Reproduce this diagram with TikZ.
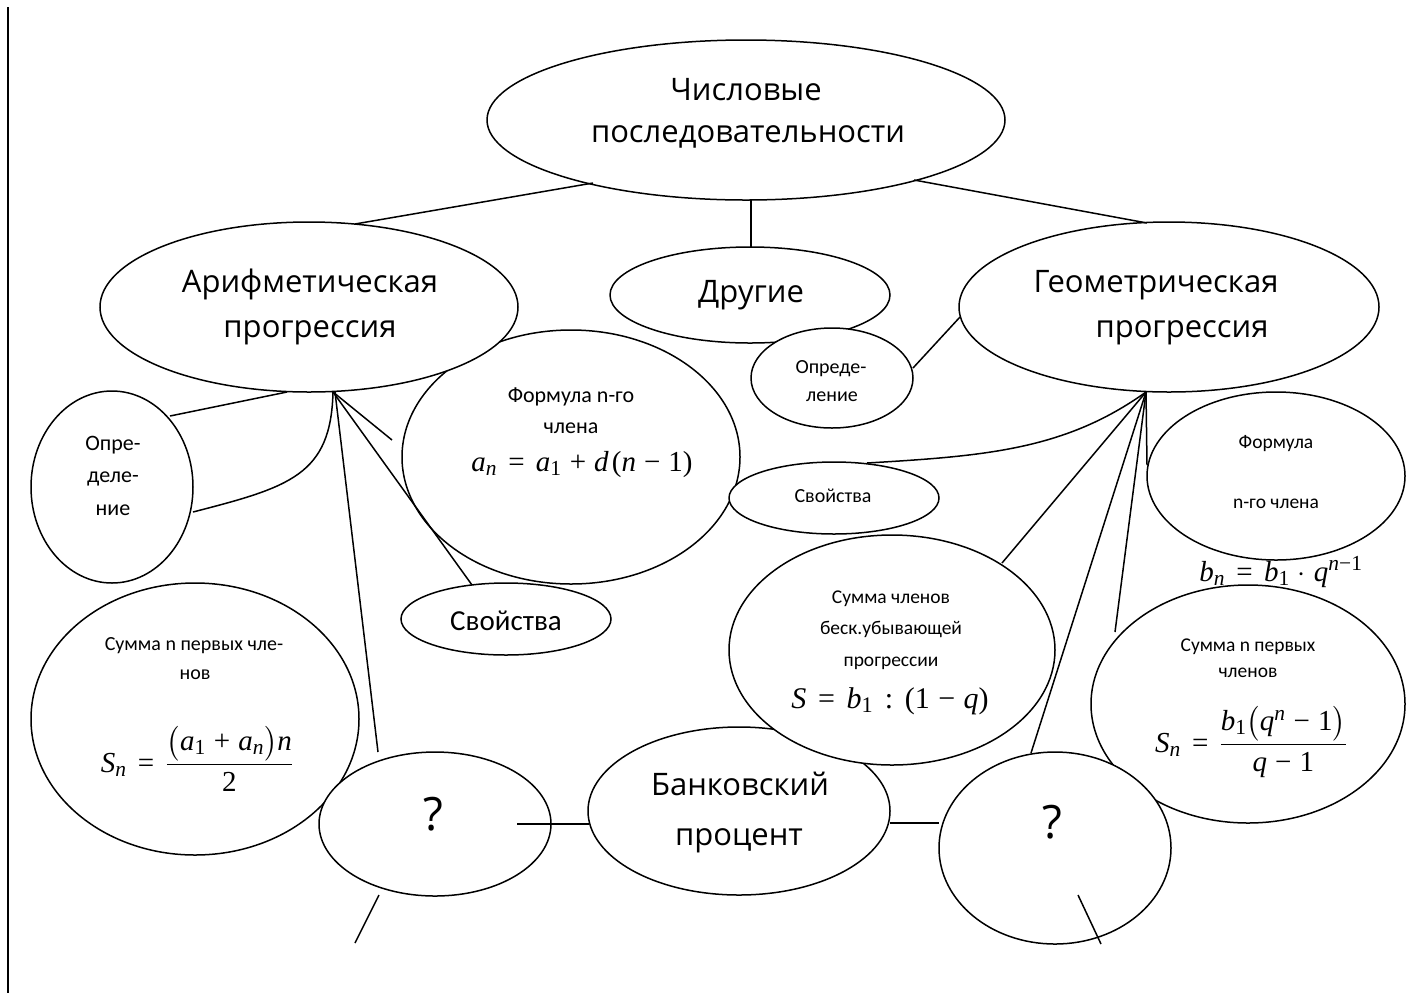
\documentclass[tikz,border=0pt]{standalone}
\usepackage{amsmath}
\usepackage{mathptmx}
\usepackage[no-math]{fontspec}
\setmainfont{Carlito}
\newfontfamily\hd{Open Sans}
\newfontfamily\tm{Liberation Serif}
\newcommand\mv[1]{\text{\tm\itshape #1}}
\newcommand\mnum[1]{\text{\tm #1}}
\newcommand\meq{\mathrel{\mnum{=}}}
\newcommand\mplus{\mathbin{\mnum{+}}}
\newcommand\mminus{\mathbin{\mnum{−}}}
\thickmuskip=7mu plus 2mu
\medmuskip=5mu plus 2mu
\usetikzlibrary{shapes.geometric}
\begin{document}
\begin{tikzpicture}[x=1pt,y=-1pt,
  ov/.style={ellipse, draw, fill=white, line width=1.5pt, inner sep=0pt},
  ln/.style={line width=1.5pt},
  hdt/.style={font=\hd\fontsize{31}{36}\selectfont, anchor=base, inner sep=0pt},
  qm/.style={font=\hd\fontsize{46}{50}\selectfont, anchor=base, inner sep=0pt},
  smt/.style={font=\fontsize{20}{24}\selectfont, anchor=base, inner sep=0pt},
  mth/.style={font=\fontsize{29}{34}\selectfont, anchor=base, inner sep=0pt}
  ]
\useasboundingbox (0,0) rectangle (1418,1005);

% left border
\coordinate (bt) at (8,7);
\coordinate (bb) at (8,993);
\draw[ln] (bt) -- (bb);

% ellipses
\node[ov, minimum width=518pt, minimum height=160pt] (top) at (746,120) {};
\node[ov, minimum width=338pt, minimum height=254pt] (aform) at (571,457) {};
\node[ov, minimum width=418pt, minimum height=170pt] (ari) at (309,307) {};
\node[ov, minimum width=280pt, minimum height=96pt] (oth) at (750,295) {};
\node[ov, minimum width=420pt, minimum height=170pt] (geo) at (1169,307) {};
\node[ov, minimum width=162pt, minimum height=100pt] (odef) at (832,378) {};
\node[ov, minimum width=162pt, minimum height=192pt] (adef) at (112,487) {};
\node[ov, minimum width=210pt, minimum height=72pt] (aprop) at (506,619) {};
\node[ov, minimum width=328pt, minimum height=272pt] (asum) at (195,719) {};
\node[ov, minimum width=302pt, minimum height=168pt] (bank) at (739,811) {};
\node[ov, minimum width=210pt, minimum height=72pt] (gprop) at (834,498) {};
\node[ov, minimum width=326pt, minimum height=230pt] (ginf) at (892,650) {};
\node[ov, minimum width=258pt, minimum height=168pt] (gform) at (1276,476) {};
\node[mth, font=\fontsize{29}{32}\selectfont] (gformula) at (1281,581) {$\mv{b}_{\mv{n}} \meq \mv{b}_{\mnum{1}}\cdot \mv{q}^{\mv{n}\mminus\mnum{1}}$};
\node[ov, minimum width=314pt, minimum height=238pt] (gsum) at (1248,704) {};
\node[ov, minimum width=232pt, minimum height=144pt] (qa) at (435,824) {};
\node[ov, minimum width=232pt, minimum height=192pt] (qg) at (1055,848) {};

% texts
\node[hdt] (t1) at (746,100) {Числовые};
\node[hdt] (t2) at (748,142) {последовательности};
\node[hdt] (t3) at (310,292) {Арифметическая};
\node[hdt] (t4) at (310,337) {прогрессия};
\node[hdt] (t5) at (751,302) {Другие};
\node[hdt] (t6) at (1156,292) {Геометрическая};
\node[hdt] (t7) at (1182,337) {прогрессия};
\node[hdt] (t8) at (740,795) {Банковский};
\node[hdt] (t9) at (739,845) {процент};
\node[qm] (q1) at (433,830) {?};
\node[qm] (q2) at (1052,838) {?};

\node[smt, font=\fontsize{22}{26}\selectfont] (s1) at (113,450) {Опре-};
\node[smt, font=\fontsize{22}{26}\selectfont] (s2) at (113,482) {деле-};
\node[smt, font=\fontsize{22}{26}\selectfont] (s3) at (113,515) {ние};
\node[smt, font=\fontsize{22}{26}\selectfont] (s4) at (571,402) {Формула n-го};
\node[smt, font=\fontsize{22}{26}\selectfont] (s5) at (571,433) {члена};
\node[mth] (f1) at (582,471) {$\mv{a}_{\mv{n}} \meq \mv{a}_{\mnum{1}} \mplus \mv{d}\,\mnum{(}\mv{n}\mminus\mnum{1}\mnum{)}$};
\node[smt, font=\fontsize{29}{33}\selectfont] (s6) at (506,630) {Свойства};
\node[smt] (s7) at (831,373) {Опреде-};
\node[smt] (s8) at (832,401) {ление};
\node[smt] (s9) at (833,502) {Свойства};
\node[smt, font=\fontsize{19.5}{24}\selectfont] (s10) at (1276,448) {Формула};
\node[smt, font=\fontsize{19.5}{24}\selectfont] (s11) at (1276,508) {n-го члена};
\node[smt, font=\fontsize{19.5}{24}\selectfont] (s12) at (891,603) {Сумма членов};
\node[smt, font=\fontsize{19.5}{24}\selectfont] (s13) at (891,634) {беск.убывающей};
\node[smt, font=\fontsize{19.5}{24}\selectfont] (s14) at (891,666) {прогрессии};
\node[mth, font=\fontsize{30}{34}\selectfont] (f2) at (890,708) {$\mv{S} \meq \mv{b}_{\mnum{1}} \mathrel{\mnum{:}} \mnum{(}\mnum{1}\mminus\mv{q}\mnum{)}$};
\node[smt, font=\fontsize{19.5}{24}\selectfont] (s15) at (1248,651) {Сумма n первых};
\node[smt, font=\fontsize{19.5}{24}\selectfont] (s16) at (1248,677) {членов};
\node[mth, font=\fontsize{29}{32}\selectfont] (f3) at (1251,752) {$\mv{S}_{\mv{n}} \meq \displaystyle\frac{\mv{b}_{\mnum{1}}\bigl(\mv{q}^{\mv{n}}\mminus\mnum{1}\bigr)}{\mv{q}\mminus\mnum{1}}$};
\node[smt] (s17) at (194,650) {Сумма n первых чле-};
\node[smt] (s18) at (195,679) {нов};
\node[mth, font=\fontsize{29}{32}\selectfont] (f4) at (197,772) {$\mv{S}_{\mv{n}} \meq \displaystyle\frac{\bigl(\mv{a}_{\mnum{1}}\mplus\mv{a}_{\mv{n}}\bigr)\mv{n}}{\mnum{2}}$};

% connector points
\coordinate (c1) at (593,183);
\coordinate (c2) at (355,224);
\coordinate (c3) at (751,199);
\coordinate (c4) at (751,247);
\coordinate (c5) at (914,180);
\coordinate (c6) at (1147,223);
\coordinate (hA) at (333,392);
\coordinate (hA2) at (335,392);
\coordinate (a1) at (287,392);
\coordinate (a2) at (170,416);
\coordinate (a3) at (193,512);
\coordinate (a4) at (392,440);
\coordinate (a5) at (472,585);
\coordinate (a6) at (378,752);
\coordinate (g0) at (960,317);
\coordinate (g1) at (913,368);
\coordinate (hG) at (1146,392);
\coordinate (g2) at (867,463);
\coordinate (g3) at (1002,563);
\coordinate (g4) at (1031,753);
\coordinate (g5) at (1115,632);
\coordinate (g6) at (1147,465);
\coordinate (b1) at (517,824);
\coordinate (b2) at (589,824);
\coordinate (b3) at (890,823);
\coordinate (b4) at (939,823);
\coordinate (b5) at (379,895);
\coordinate (b6) at (355,943);
\coordinate (b7) at (1078,895);
\coordinate (b8) at (1101,944);

% connectors
\draw[ln] (c1) -- (c2);
\draw[ln] (c3) -- (c4);
\draw[ln] (c5) -- (c6);
\draw[ln] (a1) -- (a2);
\draw[ln] (hA) .. controls (331,475) and (290,487) .. (a3);
\draw[ln] (hA) -- (a4);
\draw[ln] (hA) -- (a5);
\draw[ln] (hA2) -- (a6);
\draw[ln] (g0) -- (g1);
\draw[ln] (hG) .. controls (1065,450) and (985,456) .. (g2);
\draw[ln] (hG) -- (g3);
\draw[ln] (hG) -- (g4);
\draw[ln] (hG) -- (g5);
\draw[ln] (hG) -- (g6);
\draw[ln] (b1) -- (b2);
\draw[ln] (b3) -- (b4);
\draw[ln] (b5) -- (b6);
\draw[ln] (b7) -- (b8);
\end{tikzpicture}
\end{document}
